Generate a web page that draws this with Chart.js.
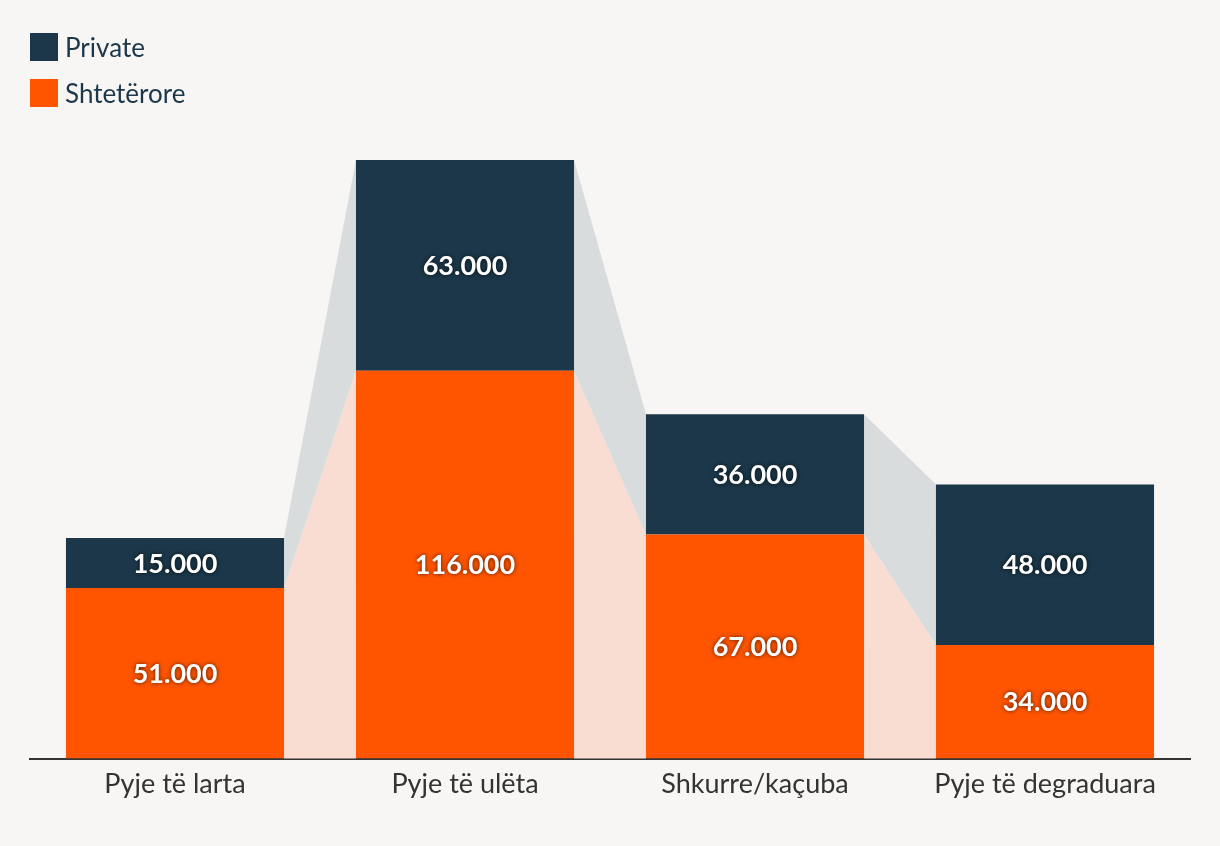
<!DOCTYPE html>
<html>
<head>
<meta charset="utf-8">
<script src="https://cdn.jsdelivr.net/npm/chart.js@4/dist/chart.umd.min.js"></script>
<style>
  html, body { margin: 0; padding: 0; background: #f7f6f4; }
  #wrap { position: relative; width: 1220px; height: 846px; }
  #legend { position: absolute; left: 30px; top: 32px; font-family: Lato, sans-serif; font-size: 26px; color: #1b3749; }
  .item { display: flex; align-items: center; height: 30px; margin-bottom: 16px; }
  .box { width: 28px; height: 28px; margin-right: 7px; }
</style>
</head>
<body>
<div id="wrap">
  <canvas id="chart" width="1220" height="846"></canvas>
  <div id="legend">
    <div class="item"><span class="box" style="background:#1b3749"></span>Private</div>
    <div class="item"><span class="box" style="background:#ff5500"></span>Shtetërore</div>
  </div>
</div>
<script>
const categories = ['Pyje të larta', 'Pyje të ulëta', 'Shkurre/kaçuba', 'Pyje të degraduara'];
const shteterore = [51000, 116000, 67000, 34000];
const privat = [15000, 63000, 36000, 48000];

const fmt = v => v.toLocaleString('de-DE');

// bands between the bars (light orange under, gray between)
const bandsPlugin = {
    id: 'bands',
    beforeDatasetsDraw(chart) {
        const ctx = chart.ctx;
        const m0 = chart.getDatasetMeta(0).data;
        const m1 = chart.getDatasetMeta(1).data;
        ctx.save();
        for (let i = 0; i < m0.length - 1; i++) {
            const a = m0[i], b = m0[i + 1];
            const r = a.x + a.width / 2, l = b.x - b.width / 2;
            ctx.fillStyle = '#f9ddd2';
            ctx.beginPath();
            ctx.moveTo(r, a.base); ctx.lineTo(r, a.y); ctx.lineTo(l, b.y); ctx.lineTo(l, b.base);
            ctx.closePath(); ctx.fill();
            ctx.fillStyle = '#d8dcdd';
            ctx.beginPath();
            ctx.moveTo(r, a.y); ctx.lineTo(r, m1[i].y); ctx.lineTo(l, m1[i + 1].y); ctx.lineTo(l, b.y);
            ctx.closePath(); ctx.fill();
        }
        ctx.restore();
    },
    afterDatasetsDraw(chart) {
        const ctx = chart.ctx;
        ctx.save();
        ctx.font = 'bold 27px Lato, sans-serif';
        ctx.textAlign = 'center';
        ctx.textBaseline = 'middle';
        ctx.fillStyle = '#ffffff';
        ctx.shadowColor = 'rgba(0,0,0,0.7)';
        ctx.shadowBlur = 4;
        chart.data.datasets.forEach((ds, di) => {
            chart.getDatasetMeta(di).data.forEach((el, i) => {
                ctx.fillText(fmt(ds.data[i]), el.x, (el.y + el.base) / 2 + 1);
            });
        });
        ctx.restore();
    }
};

new Chart(document.getElementById('chart').getContext('2d'), {
    type: 'bar',
    data: {
        labels: categories,
        datasets: [
            { label: 'Shtetërore', data: shteterore, backgroundColor: '#ff5500' },
            { label: 'Private', data: privat, backgroundColor: '#1b3749' }
        ]
    },
    options: {
        responsive: false,
        animation: false,
        layout: { padding: { top: 160, left: 30, right: 30, bottom: 45 } },
        datasets: { bar: { barPercentage: 0.752, categoryPercentage: 1 } },
        plugins: { legend: { display: false }, tooltip: { enabled: false } },
        scales: {
            x: {
                stacked: true,
                grid: { display: false },
                border: { color: '#333333', width: 2 },
                ticks: { color: '#333333', font: { family: 'Lato', size: 27 }, padding: 1 }
            },
            y: {
                stacked: true,
                display: false,
                min: 0,
                max: 179000
            }
        }
    },
    plugins: [bandsPlugin]
});
</script>
</body>
</html>
